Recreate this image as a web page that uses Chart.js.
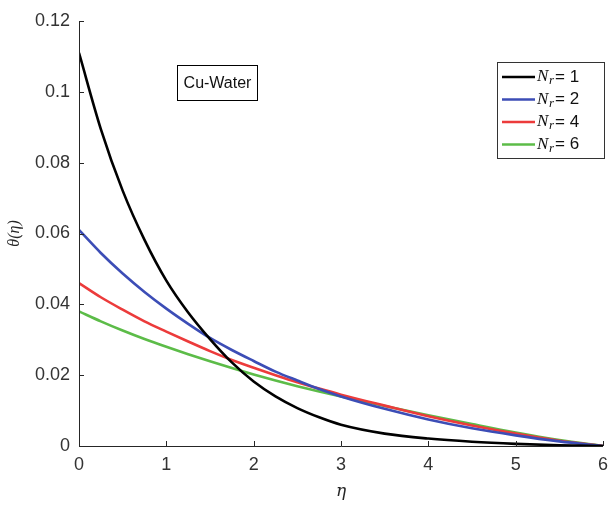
<!DOCTYPE html>
<html>
<head>
<meta charset="utf-8">
<script src="https://cdn.jsdelivr.net/npm/chart.js@4.4.1/dist/chart.umd.min.js"></script>
<style>
  html, body { margin: 0; padding: 0; background: #fff; }
  #wrap { width: 611px; height: 505px; position: relative; }
</style>
</head>
<body>
<div id="wrap"><canvas id="chart" width="611" height="505"></canvas></div>
<script>
const eta = [0, 0.25, 0.5, 0.75, 1, 1.25, 1.5, 1.75, 2, 2.25, 2.5, 2.75, 3, 3.5, 4, 4.5, 5, 5.5, 6];

const thetaNr1 = [0.111, 0.0895, 0.0721, 0.0582, 0.0467, 0.0377, 0.0302, 0.0236, 0.0182, 0.0140, 0.0107, 0.0081, 0.0060, 0.0035, 0.0021, 0.0012, 0.0006, 0.0002, 0];
const thetaNr2 = [0.061, 0.0545, 0.0487, 0.0435, 0.0388, 0.0345, 0.0305, 0.0271, 0.0240, 0.0210, 0.0185, 0.0161, 0.0140, 0.0105, 0.0075, 0.0050, 0.0030, 0.0013, 0];
const thetaNr4 = [0.046, 0.0420, 0.0385, 0.0352, 0.0323, 0.0295, 0.0268, 0.0243, 0.0221, 0.0200, 0.0180, 0.0162, 0.0145, 0.0114, 0.0084, 0.0058, 0.0035, 0.0015, 0];
const thetaNr6 = [0.038, 0.0352, 0.0326, 0.0302, 0.0280, 0.0259, 0.0239, 0.0220, 0.0202, 0.0185, 0.0169, 0.0154, 0.0140, 0.0113, 0.0087, 0.0062, 0.0038, 0.0017, 0];

const nrValues = ['1', '2', '4', '6'];
const seriesColors = ['#000000', '#3c4db6', '#ec3b3b', '#5cbc48'];
const xTicks = [0, 1, 2, 3, 4, 5, 6];
const yTicks = [0, 0.02, 0.04, 0.06, 0.08, 0.1, 0.12];
const boxLabel = 'Cu-Water';

function toPoints(ys) {
  return eta.map((x, i) => ({ x, y: ys[i] }));
}

const datasets = [thetaNr1, thetaNr2, thetaNr4, thetaNr6].map((ys, i) => ({
  label: 'Nr= ' + nrValues[i],
  data: toPoints(ys),
  borderColor: seriesColors[i],
  borderWidth: 2.6,
  pointRadius: 0,
  cubicInterpolationMode: 'monotone',
  fill: false,
}));

// inward ticks, axis titles, text box and legend
const decor = {
  id: 'decor',
  afterDraw(chart) {
    const { ctx, chartArea: a, scales } = chart;
    const xs = scales.x, ys = scales.y;
    ctx.save();
    ctx.strokeStyle = '#262626';
    ctx.lineWidth = 1;
    // axis lines
    ctx.beginPath();
    ctx.moveTo(a.left + 0.5, a.top);
    ctx.lineTo(a.left + 0.5, a.bottom + 0.5);
    ctx.lineTo(a.right, a.bottom + 0.5);
    ctx.stroke();
    // inward ticks
    ctx.beginPath();
    xTicks.forEach(v => {
      const px = Math.round(xs.getPixelForValue(v)) + 0.5;
      ctx.moveTo(px, a.bottom);
      ctx.lineTo(px, a.bottom - 5);
    });
    yTicks.forEach(v => {
      const py = Math.round(ys.getPixelForValue(v)) + 0.5;
      ctx.moveTo(a.left, py);
      ctx.lineTo(a.left + 5, py);
    });
    ctx.stroke();

    // axis titles
    ctx.fillStyle = '#262626';
    ctx.font = 'italic 17px "DejaVu Serif", "Liberation Serif", serif';
    ctx.textAlign = 'center';
    ctx.textBaseline = 'middle';
    ctx.fillText('\u03b7', (a.left + a.right) / 2, 492);
    ctx.save();
    ctx.translate(15, (a.top + a.bottom) / 2);
    ctx.rotate(-Math.PI / 2);
    ctx.font = 'italic 16px "Liberation Serif", "DejaVu Serif", serif';
    ctx.fillText('\u03b8(\u03b7)', 0, 0);
    ctx.restore();

    // Cu-Water box
    ctx.strokeStyle = '#000';
    ctx.lineWidth = 1;
    ctx.strokeRect(177.5, 65.5, 80, 35);
    ctx.fillStyle = '#111';
    ctx.font = '16px "Liberation Sans", Arial, sans-serif';
    ctx.textAlign = 'center';
    ctx.fillText(boxLabel, 217.5, 83.5);

    // legend
    const lx = 497, ly = 62, lw = 107, lh = 96;
    ctx.fillStyle = '#fff';
    ctx.fillRect(lx, ly, lw, lh);
    ctx.strokeStyle = '#333';
    ctx.strokeRect(lx + 0.5, ly + 0.5, lw, lh);
    chart.data.datasets.forEach((ds, i) => {
      const y = ly + 15 + i * 22.5;
      ctx.strokeStyle = ds.borderColor;
      ctx.lineWidth = 2.6;
      ctx.beginPath();
      ctx.moveTo(lx + 5, y);
      ctx.lineTo(lx + 38, y);
      ctx.stroke();
      ctx.fillStyle = '#111';
      ctx.textAlign = 'left';
      ctx.textBaseline = 'middle';
      ctx.font = 'italic 17px "Liberation Serif", "DejaVu Serif", serif';
      ctx.fillText('N', lx + 40, y);
      ctx.font = 'italic 13px "Liberation Serif", "DejaVu Serif", serif';
      ctx.fillText('r', lx + 52, y + 4);
      ctx.font = '17px "Liberation Sans", Arial, sans-serif';
      ctx.fillText('= ' + nrValues[i], lx + 58, y);
    });
    ctx.restore();
  }
};

const tickFont = { family: '"Liberation Sans", Arial, sans-serif', size: 18 };

new Chart(document.getElementById('chart'), {
  type: 'line',
  data: { datasets },
  plugins: [decor],
  options: {
    responsive: false,
    animation: false,
    layout: { padding: { left: 0, right: 8, top: 21, bottom: 0 } },
    plugins: { legend: { display: false }, tooltip: { enabled: false } },
    scales: {
      x: {
        type: 'linear',
        min: 0, max: 6,
        border: { display: false },
        grid: { display: false, drawTicks: false },
        afterFit(s) { s.height = 59; s.paddingRight = 0; s.paddingLeft = 0; },
        afterBuildTicks(s) { s.ticks = xTicks.map(v => ({ value: v })); },
        ticks: { color: '#333', font: tickFont, padding: 8, maxRotation: 0,
                 callback: v => String(v) },
      },
      y: {
        min: 0, max: 0.12,
        border: { display: false },
        grid: { display: false, drawTicks: false },
        afterFit(s) { s.width = 79; s.paddingTop = 0; s.paddingBottom = 0; },
        afterBuildTicks(s) { s.ticks = yTicks.map(v => ({ value: v })); },
        ticks: { color: '#333', font: tickFont, padding: 9,
                 callback: v => String(+v.toFixed(2)) },
      },
    },
  },
});
</script>
</body>
</html>
